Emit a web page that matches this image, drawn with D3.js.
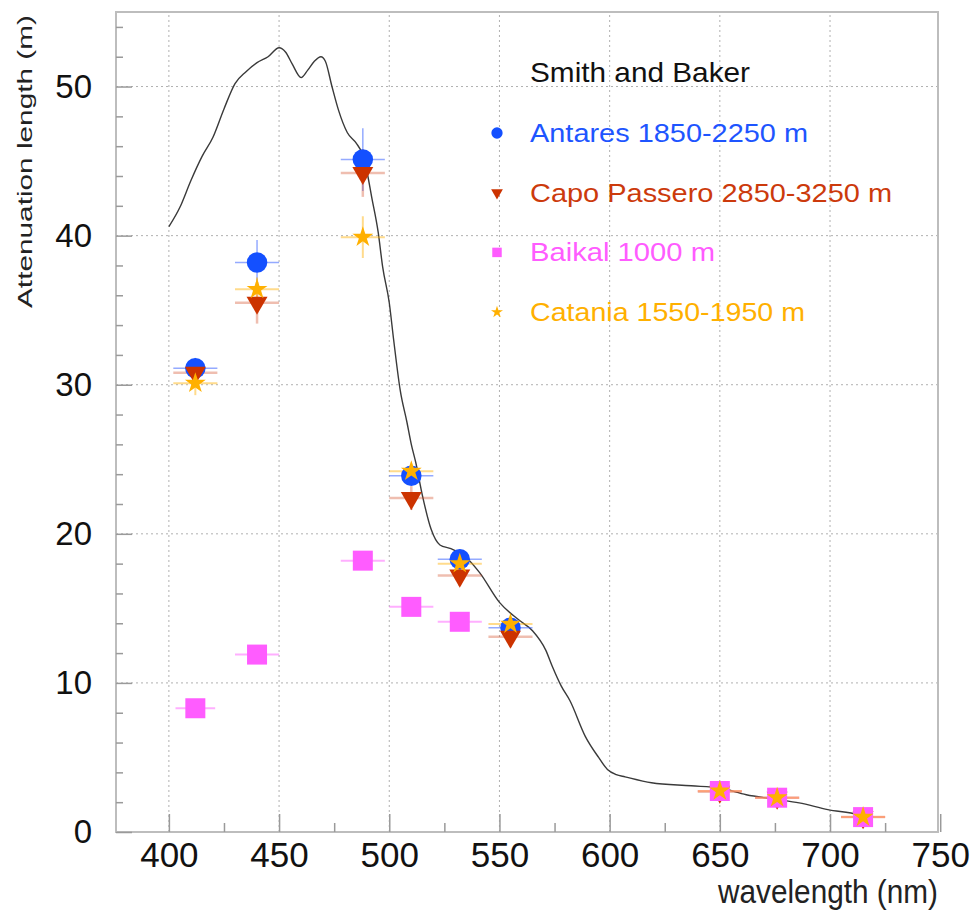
<!DOCTYPE html>
<html><head><meta charset="utf-8">
<script src="https://cdn.jsdelivr.net/npm/d3@7"></script>
<style>
body{margin:0;background:#fff}
svg{display:block}
text{font-family:"Liberation Sans",Arial,Helvetica,sans-serif}
</style>
</head><body>
<svg id="chart" width="973" height="911"></svg>
<script>
// ---------- data ----------
const xTickValues = [400, 450, 500, 550, 600, 650, 700, 750];
const xMinorTicks = [425, 475, 525, 575, 625, 675, 725];
const yTickValues = [0, 10, 20, 30, 40, 50];
const yMinorTicks = [2,4,6,8,12,14,16,18,22,24,26,28,32,34,36,38,42,44,46,48,52,54];

// Smith and Baker pure-water attenuation curve
const curveWavelength  = [400,405,410,415,420,425,430,435,440,445,450,453,456,460,463,466,469,471,474,477,481,485,488,490,492,495,497,500,502,505,508,510,512,515,519,523,528,535,541,550,559,565,571,574,578,582,589,595,599,603,607,619,637,650,662,675,686,699,713,718];
const curveAttenuation = [40.6,41.9,43.7,45.3,46.6,48.5,50.2,51.0,51.6,52.0,52.6,52.3,51.5,50.6,51.1,51.7,52.0,51.7,50.0,48.4,46.9,46.2,45.4,44.2,42.6,40.2,37.9,35.5,33.0,29.6,27.5,26.0,24.8,22.6,20.3,19.25,19.0,18.4,17.4,15.4,14.2,13.5,12.2,11.1,9.8,8.8,6.4,5.0,4.2,3.85,3.7,3.3,3.1,2.95,2.5,2.2,1.95,1.5,1.15,0.9];

// Antares 1850-2250 m
const antaresWavelength = [412, 440, 488, 510, 532, 555];
const antaresValue      = [31.1, 38.2, 45.1, 23.9, 18.3, 13.7];
const antaresYErr       = [0.7, 1.5, 2.1, 0.6, 0.5, 0.5];
const antaresXErr       = [10, 10, 10, 10, 10, 10];

// Capo Passero 2850-3250 m
const capoWavelength = [412, 440, 488, 510, 532, 555, 650, 676, 715];
const capoValue      = [30.8, 35.5, 44.2, 22.4, 17.2, 13.1, 2.7, 2.3, 1.0];
const capoYErr       = [0.5, 1.4, 1.6, 0.8, 0.7, 0.7, 0.2, 0.2, 0.2];
const capoXErr       = [10, 10, 10, 10, 10, 10, 10, 10, 10];

// Baikal 1000 m
const baikalWavelength = [412, 440, 488, 510, 532, 650, 676, 715];
const baikalValue      = [8.3, 11.9, 18.2, 15.1, 14.1, 2.75, 2.3, 1.0];
const baikalYErr       = [0.3, 0.3, 0.3, 0.3, 0.3, 0.2, 0.2, 0.2];
const baikalXErr       = [9, 10, 10, 10, 10, 10, 10, 10];

// Catania 1550-1950 m
const cataniaWavelength = [412, 440, 488, 510, 532, 555, 650, 676, 715];
const cataniaValue      = [30.1, 36.4, 39.9, 24.2, 18.0, 13.95, 2.75, 2.3, 1.0];
const cataniaYErr       = [0.8, 0.8, 1.4, 0.5, 0.5, 0.5, 0.2, 0.2, 0.2];
const cataniaXErr       = [10, 10, 10, 10, 10, 10, 10, 10, 10];

const legendTitle = "Smith and Baker";
const seriesLabels = ["Antares 1850-2250 m", "Capo Passero 2850-3250 m", "Baikal 1000 m", "Catania 1550-1950 m"];
const xTitle = "wavelength (nm)";
const yTitle = "Attenuation length (m)";

// ---------- setup ----------
const svg = d3.select("#chart");
const frame = {left: 116, right: 938, top: 12, bottom: 832};
const x = d3.scaleLinear().domain([376, 749]).range([frame.left, frame.right]);
const y = d3.scaleLinear().domain([0, 55]).range([frame.bottom, frame.top]);

const zip = (w, v, ye, xe) => w.map((d, i) => ({w: d, v: v[i], ye: ye[i], xe: xe[i]}));

const series = [
  {label: seriesLabels[0], data: zip(antaresWavelength, antaresValue, antaresYErr, antaresXErr),
   color: "#1450ff", text: "#1e55ff", err: "rgba(60,100,255,0.55)", errW: 1.5,
   symbol: d3.symbolCircle, size: 330, rot: 0, lsize: 100},
  {label: seriesLabels[1], data: zip(capoWavelength, capoValue, capoYErr, capoXErr),
   color: "#cc3300", text: "#cc3a0c", err: "rgba(210,70,30,0.35)", errW: 2.5,
   symbol: d3.symbolTriangle, size: 190, rot: 180, lsize: 60},
  {label: seriesLabels[2], data: zip(baikalWavelength, baikalValue, baikalYErr, baikalXErr),
   color: "#ff5cff", text: "#ff5cff", err: "rgba(255,110,255,0.55)", errW: 2,
   symbol: d3.symbolSquare, size: 400, rot: 0, lsize: 90},
  {label: seriesLabels[3], data: zip(cataniaWavelength, cataniaValue, cataniaYErr, cataniaXErr),
   color: "#ffb000", text: "#ffb000", err: "rgba(255,175,0,0.45)", errW: 2,
   symbol: d3.symbolStar, size: 135, rot: 0, lsize: 45}
];

// ---------- grid ----------
const grid = svg.append("g").attr("stroke", "#b0b0b0").attr("stroke-width", 1).attr("stroke-dasharray", "2,3");
grid.selectAll("line.v").data(xTickValues.filter(t => x(t) < frame.right - 2)).join("line")
  .attr("x1", d => x(d)).attr("x2", d => x(d)).attr("y1", frame.bottom).attr("y2", frame.top);
grid.selectAll("line.h").data(yTickValues.filter(t => t > 0)).join("line")
  .attr("y1", d => y(d)).attr("y2", d => y(d)).attr("x1", frame.left).attr("x2", frame.right);

// ---------- frame ----------
svg.append("rect").attr("x", frame.left).attr("y", frame.top)
  .attr("width", frame.right - frame.left).attr("height", frame.bottom - frame.top)
  .attr("fill", "none").attr("stroke", "#bdbdbd").attr("stroke-width", 2);

// ---------- axes ----------
const xAxis = svg.append("g").attr("transform", `translate(0,${frame.bottom})`)
  .call(d3.axisBottom(x).tickValues(xTickValues).tickSize(-18).tickSizeOuter(0).tickPadding(10).tickFormat(d3.format("d")));
const xMinor = svg.append("g").attr("transform", `translate(0,${frame.bottom})`)
  .call(d3.axisBottom(x).tickValues(xMinorTicks).tickSize(-9).tickSizeOuter(0).tickFormat(""));
const yAxis = svg.append("g").attr("transform", `translate(${frame.left},0)`)
  .call(d3.axisLeft(y).tickValues(yTickValues).tickSize(-16).tickSizeOuter(0).tickPadding(24).tickFormat(d3.format("d")));
const yMinor = svg.append("g").attr("transform", `translate(${frame.left},0)`)
  .call(d3.axisLeft(y).tickValues(yMinorTicks).tickSize(-7).tickSizeOuter(0).tickFormat(""));
[xAxis, xMinor, yAxis, yMinor].forEach(g => {
  g.select(".domain").remove();
  g.selectAll(".tick line").attr("stroke", "#9a9a9a").attr("stroke-width", 1.5);
});
xAxis.selectAll(".tick text").attr("font-size", 35).attr("fill", "#111");
yAxis.selectAll(".tick text").attr("font-size", 33).attr("fill", "#111");

// axis titles
svg.append("text").attr("x", frame.right).attr("y", 903).attr("text-anchor", "end")
  .attr("font-size", 33).attr("fill", "#222")
  .attr("textLength", 220).attr("lengthAdjust", "spacingAndGlyphs").text(xTitle);
svg.append("text").attr("transform", `translate(32,15) rotate(-90)`).attr("text-anchor", "end")
  .attr("font-size", 21).attr("fill", "#222")
  .attr("textLength", 293).attr("lengthAdjust", "spacingAndGlyphs").text(yTitle);

// ---------- Smith & Baker curve ----------
const curvePts = curveWavelength.map((w, i) => [w, curveAttenuation[i]]);
svg.append("path").datum(curvePts)
  .attr("fill", "none").attr("stroke", "#3a3a3a").attr("stroke-width", 1.4)
  .attr("d", d3.line().x(d => x(d[0])).y(d => y(d[1])).curve(d3.curveMonotoneX));

// ---------- error bars ----------
series.forEach(s => {
  const g = svg.append("g").attr("stroke", s.err).attr("stroke-width", s.errW);
  g.selectAll("line.h").data(s.data).join("line")
    .attr("x1", d => x(d.w - d.xe)).attr("x2", d => x(d.w + d.xe))
    .attr("y1", d => y(d.v)).attr("y2", d => y(d.v));
  g.selectAll("line.v").data(s.data).join("line")
    .attr("x1", d => x(d.w)).attr("x2", d => x(d.w))
    .attr("y1", d => y(d.v - d.ye)).attr("y2", d => y(d.v + d.ye));
});

// ---------- markers ----------
series.forEach(s => {
  svg.append("g").selectAll("path").data(s.data).join("path")
    .attr("d", d3.symbol().type(s.symbol).size(s.size))
    .attr("transform", d => `translate(${x(d.w)},${y(d.v)}) rotate(${s.rot})`)
    .attr("fill", s.color);
});

// ---------- legend ----------
const legendLengths = [278, 362, 185, 275];
svg.append("text").attr("x", 530).attr("y", 82).attr("font-size", 28).attr("fill", "#111")
  .attr("textLength", 220).attr("lengthAdjust", "spacingAndGlyphs").text(legendTitle);
const leg = svg.append("g").selectAll("g").data(series).join("g")
  .attr("transform", (d, i) => `translate(497,${133 + i * 59.7})`);
leg.append("path")
  .attr("d", d => d3.symbol().type(d.symbol).size(d.lsize)())
  .attr("transform", d => `rotate(${d.rot})`)
  .attr("fill", d => d.color);
leg.append("text").attr("x", 33).attr("y", 9).attr("font-size", 26)
  .attr("fill", d => d.text)
  .attr("textLength", (d, i) => legendLengths[i]).attr("lengthAdjust", "spacingAndGlyphs")
  .text(d => d.label);
</script>
</body></html>
